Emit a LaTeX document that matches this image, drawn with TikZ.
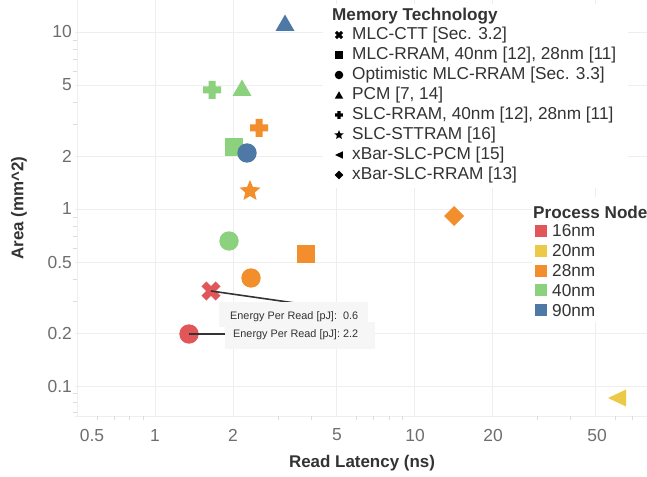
\documentclass[tikz,border=0pt]{standalone}
\usepackage{fontspec}
\setmainfont{Liberation Sans}
\definecolor{c16}{HTML}{E15759}
\definecolor{c20}{HTML}{EDC948}
\definecolor{c28}{HTML}{F28E2B}
\definecolor{c40}{HTML}{8CD17D}
\definecolor{c90}{HTML}{4E79A7}
\definecolor{gridc}{HTML}{EEEEEE}
\definecolor{minorc}{HTML}{DDDDDD}
\definecolor{labc}{HTML}{6E6E6E}
\definecolor{darkc}{HTML}{333333}
\definecolor{tipc}{HTML}{F6F6F6}
\tikzset{
  gridline/.style={draw=gridc, line width=0.8bp},
  minortick/.style={draw=minorc, line width=0.8bp},
  ticklab/.style={inner sep=0pt, text=labc, font=\fontsize{17.5}{20}\selectfont},
  axtitle/.style={inner sep=0pt, text=darkc, font=\bfseries\fontsize{17}{19}\selectfont},
  legtitle/.style={inner sep=0pt, anchor=west, text=darkc, font=\bfseries\fontsize{17.2}{19}\selectfont},
  legitem/.style={inner sep=0pt, anchor=west, text=darkc, font=\fontsize{17.3}{19}\selectfont},
  tiptext/.style={inner sep=0pt, anchor=west, text=darkc, font=\fontsize{10.9}{12}\selectfont},
  leader/.style={draw=darkc, line width=1.6bp},
  pics/pcirc/.style={code={\fill[#1] (0,0) circle (9.7);}},
  pics/psq/.style={code={\fill[#1] (-9,-9) rectangle (9,9);}},
  pics/pdia/.style={code={\fill[#1] (0,-10) -- (10,0) -- (0,10) -- (-10,0) -- cycle;}},
  pics/ptri/.style={code={\fill[#1] (0,-8.5) -- (9.5,8) -- (-9.5,8) -- cycle;}},
  pics/pltri/.style={code={\fill[#1] (-9,0) -- (9,-8.5) -- (9,8.5) -- cycle;}},
  pics/pplus/.style={code={\fill[#1] (-9,-3.5) rectangle (9,3.5) (-3.5,-9) rectangle (3.5,9);}},
  pics/pcross/.style={code={\fill[#1,rotate=45] (-10,-3.5) rectangle (10,3.5) (-3.5,-10) rectangle (3.5,10);}},
  pics/pstar/.style={code={\fill[#1] (-90:11) -- (-54:5) -- (-18:11) -- (18:5) -- (54:11) -- (90:5) -- (126:11) -- (162:5) -- (198:11) -- (234:5) -- cycle;}},
}
\begin{document}
\begin{tikzpicture}[x=1bp,y=-1bp]
\useasboundingbox (0,0) rectangle (647,477);
\clip (0,0) rectangle (647,477);
\fill[white] (0,0) rectangle (647,477);
% grid
\foreach \gx in {77,155,233,336,414,492,595} \draw[gridline] (\gx,0) -- (\gx,416);
\foreach \gy in {32,85,156,209,262,333,386} \draw[gridline] (75,\gy) -- (647,\gy);
\draw[gridline] (75,416) -- (647,416);
% minor ticks
\foreach \v in {0.07,0.08,0.09,0.3,0.4,0.6,0.7,0.8,0.9,3,4,6,7,8,9} {
  \pgfmathsetmacro\yy{209-177*log10(\v)}
  \draw[minortick] (73,\yy) -- (77,\yy);
}
\foreach \v in {0.6,0.7,0.8,0.9,3,4,6,7,8,9,30,40,60,70} {
  \pgfmathsetmacro\xx{155+259*log10(\v)}
  \draw[minortick] (\xx,416) -- (\xx,420);
}
% tick labels
\foreach \v/\p [count=\i] in {10/32,5/85,2/156,1/209,0.5/262,0.2/333,0.1/386}
  \node[ticklab, anchor=east] (yl\i) at (72,\p) {\v};
\foreach \v/\p [count=\i] in {0.5/92,1/155,2/233,5/337,10/415,20/493,50/597}
  \node[ticklab] (xl\i) at (\p,435) {\v};
% axis titles
\node[axtitle] (xtitle) at (362,463) {Read Latency (ns)};
\node[axtitle, rotate=90] (ytitle) at (19,208) {Area (mm\textasciicircum 2)};
% legend backgrounds
\fill[white] (323,4) rectangle (628,188);
\fill[white] (532,197) rectangle (647,322);
% data markers
\coordinate (pcm90) at (285,23);
\coordinate (slc40) at (212,90);
\coordinate (pcm40) at (242,88);
\coordinate (slc28) at (259,128);
\coordinate (mlc40) at (234,147);
\coordinate (opt90) at (247,153);
\coordinate (stt28) at (250,191);
\coordinate (opt40) at (229,241);
\coordinate (mlc28) at (306,254);
\coordinate (opt28) at (251,278);
\coordinate (ctt16) at (211,291);
\coordinate (opt16) at (189,334);
\coordinate (xbr28) at (454,216);
\coordinate (xbp20) at (617,398);
\pic at (pcm90) {ptri=c90};
\pic at (slc40) {pplus=c40};
\pic at (pcm40) {ptri=c40};
\pic at (slc28) {pplus=c28};
\pic at (mlc40) {psq=c40};
\pic at (opt90) {pcirc=c90};
\pic at (stt28) {pstar=c28};
\pic at (opt40) {pcirc=c40};
\pic at (mlc28) {psq=c28};
\pic at (opt28) {pcirc=c28};
\pic at (ctt16) {pcross=c16};
\pic at (opt16) {pcirc=c16};
\pic at (xbr28) {pdia=c28};
\pic at (xbp20) {pltri=c20};
% tooltips
\coordinate (tip1) at (295,303);
\coordinate (tip2) at (225,334);
\draw[leader] (ctt16) -- (tip1);
\fill[tipc] (219,302) rectangle (368,327);
\node[tiptext] (tt1) at (230,316.5) {Energy Per Read [pJ]:\ \ 0.6};
\fill[tipc] (225,322) rectangle (375,349);
\draw[leader] (opt16) -- (tip2);
\node[tiptext] (tt2) at (233,334.5) {Energy Per Read [pJ]: 2.2};
% legend 1
\node[legtitle] (lt1) at (332,16) {Memory Technology};
\foreach \pn/\txt [count=\i] in {pcross/{MLC-CTT [Sec. 3.2]},psq/{MLC-RRAM, 40nm [12], 28nm [11]},pcirc/{Optimistic MLC-RRAM [Sec. 3.3]},ptri/{PCM [7, 14]},pplus/{SLC-RRAM, 40nm [12], 28nm [11]},pstar/{SLC-STTRAM [16]},pltri/{xBar-SLC-PCM [15]},pdia/{xBar-SLC-RRAM [13]}} {
  \pgfmathsetmacro\ly{35+20*(\i-1)}
  \coordinate (ls\i) at (339,\ly);
  \pic[scale=0.44] at (ls\i) {\pn=black};
  \node[legitem] (li\i) at (352,\ly) {\txt};
}
% legend 2
\node[legtitle] (lt2) at (533,212) {Process Node};
\foreach \cc/\txt [count=\i] in {c16/16nm,c20/20nm,c28/28nm,c40/40nm,c90/90nm} {
  \pgfmathsetmacro\ly{231+19.8*(\i-1)}
  \fill[\cc] (535,\ly-6) rectangle (547,\ly+6);
  \node[legitem] (pn\i) at (552,\ly) {\txt};
}
\end{tikzpicture}
\end{document}
